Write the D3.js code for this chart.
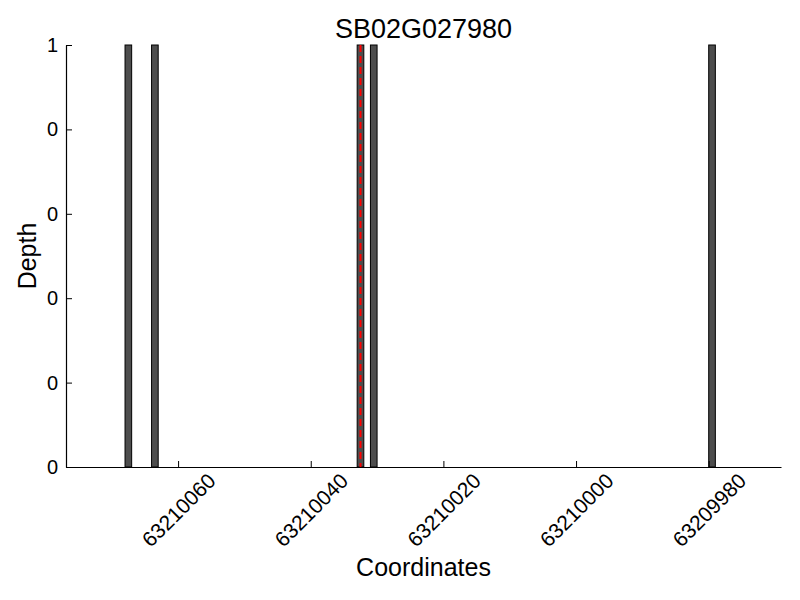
<!DOCTYPE html>
<html>
<head>
<meta charset="utf-8">
<script src="https://cdn.jsdelivr.net/npm/d3@7"></script>
<style>
body{margin:0;background:#fff;}
text{font-family:"Liberation Sans",Arial,sans-serif;fill:#000;}
</style>
</head>
<body>
<svg id="chart" width="800" height="600"></svg>
<script>
const title = "SB02G027980";
const positions = [63210067, 63210063, 63210032, 63210030, 63209979];
const depths = [1, 1, 1, 1, 1];
const markerPos = [63210032.5];
const xTicks = [63210060, 63210040, 63210020, 63210000, 63209980];
const yTicks = [0, 0.2, 0.4, 0.6, 0.8, 1];
const xDomain = [63210076.9, 63209969.1];

const svg = d3.select("#chart");
const L = 66, R = 781, T = 45, B = 467;
const x = d3.scaleLinear().domain(xDomain).range([L, R]);
const y = d3.scaleLinear().domain([0, 1]).range([B, T]);

const g = svg.append("g");
g.selectAll("rect.bar").data(positions).enter().append("rect")
  .attr("class", "bar")
  .attr("x", (d) => x(d + 1))
  .attr("width", (d) => x(d) - x(d + 1))
  .attr("y", (d, i) => y(depths[i]))
  .attr("height", (d, i) => y(0) - y(depths[i]))
  .attr("fill", "#4d4d4d")
  .attr("stroke", "#000")
  .attr("stroke-width", 1);

g.selectAll("line.marker").data(markerPos).enter().append("line")
  .attr("x1", (d) => x(d)).attr("x2", (d) => x(d))
  .attr("y1", y(1)).attr("y2", y(0))
  .attr("stroke", "#ff0000").attr("stroke-width", 2)
  .attr("stroke-dasharray", "7,4");

const xAxis = d3.axisBottom(x).tickValues(xTicks).tickFormat(d3.format("d")).tickSizeInner(-6).tickSizeOuter(0);
const xg = svg.append("g").attr("transform", `translate(0,${B})`).call(xAxis);
xg.attr("font-size", null).attr("font-family", null);
xg.select(".domain").attr("stroke", "#000").attr("stroke-width", 1.2);
xg.selectAll(".tick line").attr("stroke", "#000");
xg.selectAll(".tick text")
  .style("font-size", "21px")
  .attr("text-anchor", "middle")
  .attr("dy", null)
  .attr("y", 0)
  .attr("dominant-baseline", "central")
  .attr("transform", "translate(0,43) rotate(-45)");

const yAxis = d3.axisLeft(y).tickValues(yTicks).tickFormat((d) => String(Math.floor(d))).tickSizeInner(-6).tickSizeOuter(0);
const yg = svg.append("g").attr("transform", `translate(${L},0)`).call(yAxis);
yg.attr("font-size", null).attr("font-family", null);
yg.select(".domain").attr("stroke", "#000").attr("stroke-width", 1.2);
yg.selectAll(".tick line").attr("stroke", "#000");
yg.selectAll(".tick text").style("font-size", "20px").attr("x", -8);

svg.append("text").attr("x", (L + R) / 2).attr("y", 38)
  .attr("text-anchor", "middle").style("font-size", "27px").text(title);
svg.append("text").attr("x", (L + R) / 2).attr("y", 576)
  .attr("text-anchor", "middle").style("font-size", "25px").text("Coordinates");
svg.append("text").attr("transform", `translate(36,${(T + B) / 2}) rotate(-90)`)
  .attr("text-anchor", "middle").style("font-size", "25px").text("Depth");
</script>
</body>
</html>
